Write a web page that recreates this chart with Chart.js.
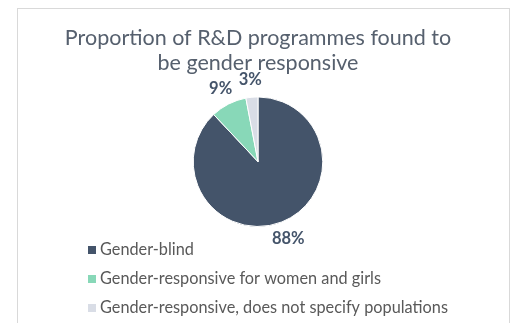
<!DOCTYPE html>
<html>
<head>
<meta charset="utf-8">
<script src="https://cdn.jsdelivr.net/npm/chart.js@4/dist/chart.umd.min.js"></script>
<style>
    html, body { margin: 0; padding: 0; background: #fff; }
    #box {
        position: absolute; left: 17px; top: 8px; width: 491px; height: 320px;
        border: 1px solid #d9d9d9; background: #fff;
    }
    #box canvas { position: absolute; left: 0; top: 0; }
</style>
</head>
<body>
<div id="box"><canvas id="genderChart" width="491" height="315"></canvas></div>
<script>
var titleLines = ['Proportion of R&D programmes found to', 'be gender responsive'];
var categories = ['Gender-blind', 'Gender-responsive for women and girls', 'Gender-responsive, does not specify populations'];
var shares = [88, 9, 3];
var sliceColors = ['#44546a', '#88d8b8', '#d9dde6'];

// percent labels just outside each slice
var sliceLabels = {
    id: 'sliceLabels',
    afterDatasetsDraw(chart) {
        let ctx = chart.ctx;
        let meta = chart.getDatasetMeta(0);
        ctx.save();
        ctx.font = 'bold 16.5px Lato';
        ctx.fillStyle = '#44546a';
        ctx.textAlign = 'center';
        ctx.textBaseline = 'middle';
        meta.data.forEach((arc, i) => {
            let p = arc.getProps(['x', 'y', 'startAngle', 'endAngle', 'outerRadius'], true);
            let mid = (p.startAngle + p.endAngle) / 2;
            let r = p.outerRadius * 1.27;
            ctx.fillText(shares[i] + '%', p.x + Math.cos(mid) * r, p.y + Math.sin(mid) * r);
        });
        ctx.restore();
    }
};

// vertical legend under the pie
var stackedLegend = {
    id: 'stackedLegend',
    afterDraw(chart) {
        let ctx = chart.ctx;
        ctx.save();
        ctx.font = '16.3px Lato';
        ctx.textBaseline = 'middle';
        categories.forEach((name, i) => {
            let y = 241 + i * 29;
            ctx.fillStyle = sliceColors[i];
            ctx.fillRect(70, y - 4, 8, 8);
            ctx.fillStyle = '#595959';
            ctx.fillText(name, 82, y);
        });
        ctx.restore();
    }
};

new Chart(document.getElementById('genderChart'), {
    type: 'pie',
    data: {
        labels: categories,
        datasets: [{
            data: shares,
            backgroundColor: sliceColors,
            borderColor: '#ffffff',
            borderWidth: 1
        }]
    },
    options: {
        responsive: false,
        animation: false,
        layout: { padding: { top: 0, left: 0, right: 11, bottom: 97 } },
        plugins: {
            legend: { display: false },
            tooltip: { enabled: false },
            title: {
                display: true,
                text: titleLines,
                color: '#56606e',
                font: { family: 'Lato', size: 21.5, weight: 'normal', lineHeight: 1.15 },
                padding: { top: 17, bottom: 21 }
            }
        }
    },
    plugins: [sliceLabels, stackedLegend]
});
</script>
</body>
</html>
